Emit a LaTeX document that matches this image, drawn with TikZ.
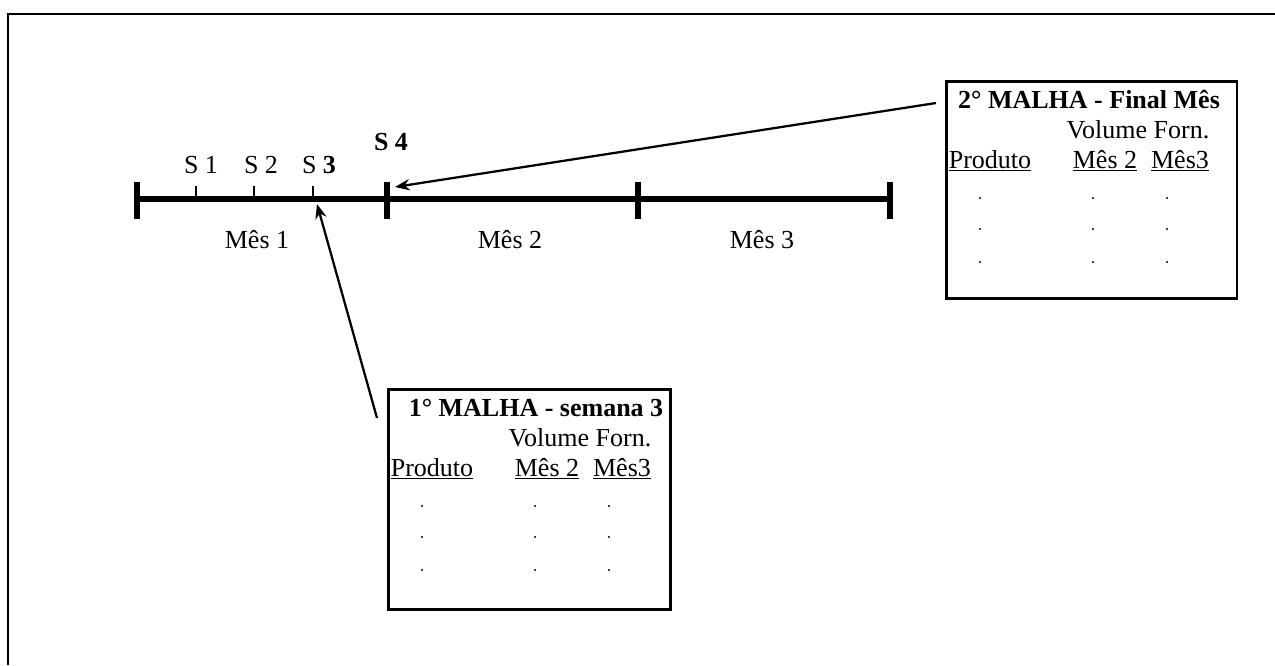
\documentclass[tikz,border=0pt]{standalone}
\usepackage{fontspec}
\setmainfont{Liberation Serif}
\usetikzlibrary{arrows.meta}
\tikzset{
  ar/.style={-{Stealth[length=11pt,width=8.5pt]},line width=1.7pt},
  bigtick/.style={line width=4.5pt},
  smalltick/.style={line width=1.4pt},
  lbl/.style={inner sep=0pt,anchor=base,font=\fontsize{19.5}{23}\selectfont},
  malhabox/.style={draw,line width=2pt,anchor=north west,inner sep=0pt}
}
% #1 name, #2 #3 top left, #4 title, #5 title centre offset, #6 #7 size
\newcommand{\malha}[7]{%
  \node[malhabox,minimum width=#6,minimum height=#7] (#1) at (#2,#3) {};
  \node[lbl,font=\fontsize{19.5}{23}\selectfont\bfseries] (#1title) at (#2+#5,#3+28) {#4};
  \node[lbl] (#1vol) at (#2+193,#3+58) {Volume Forn.};
  \node[lbl] (#1prod) at (#2+45,#3+88) {\underline{Produto}};
  \node[lbl] (#1mes2) at (#2+160,#3+88) {\underline{Mês 2}};
  \node[lbl] (#1mes3) at (#2+235,#3+88) {\underline{Mês3}};
  \foreach \dx in {35,148,222}{\foreach \dy in {118,149,182}{\fill (#2+\dx,#3+\dy) circle (1.2);}}}

\begin{document}
\begin{tikzpicture}[x=0.75pt,y=-0.75pt]
\useasboundingbox (0,0) rectangle (1275,665);
\draw[line width=2pt] (8,665)--(8,14)--(1275,14);
% time line
\foreach \x/\n in {137/t0,387/t1,638/t2,890/t3}{
  \coordinate (\n) at (\x,199);
  \draw[bigtick] (\x,182)--(\x,219);}
\draw[line width=5pt] (t0)--(t3);
\foreach \x in {196,254,313}{\draw[smalltick] (\x,186)--(\x,199);}
\node[lbl] (s1) at (201,173) {S 1};
\node[lbl] (s2) at (261,173) {S 2};
\node[lbl] (s3) at (319,173) {S \textbf{3}};
\node[lbl,font=\fontsize{19.5}{23}\selectfont\bfseries] (s4) at (391,150) {S 4};
\node[lbl] (mes1) at (257,248) {Mês 1};
\node[lbl] (mes2) at (510,248) {Mês 2};
\node[lbl] (mes3) at (762,248) {Mês 3};
% the two boxes
\malha{mb}{387}{388}{1° MALHA - semana 3}{149}{211.5pt}{165pt}
\malha{mf}{945}{80}{2° MALHA - Final Mês}{144}{218pt}{163pt}
\coordinate (mbtail) at (377,418);
\coordinate (s3tip) at (317,204);
\coordinate (mftail) at (936,103);
\coordinate (s4tip) at (395,187);
\draw[ar] (mbtail)--(s3tip);
\draw[ar] (mftail)--(s4tip);
\end{tikzpicture}
\end{document}
